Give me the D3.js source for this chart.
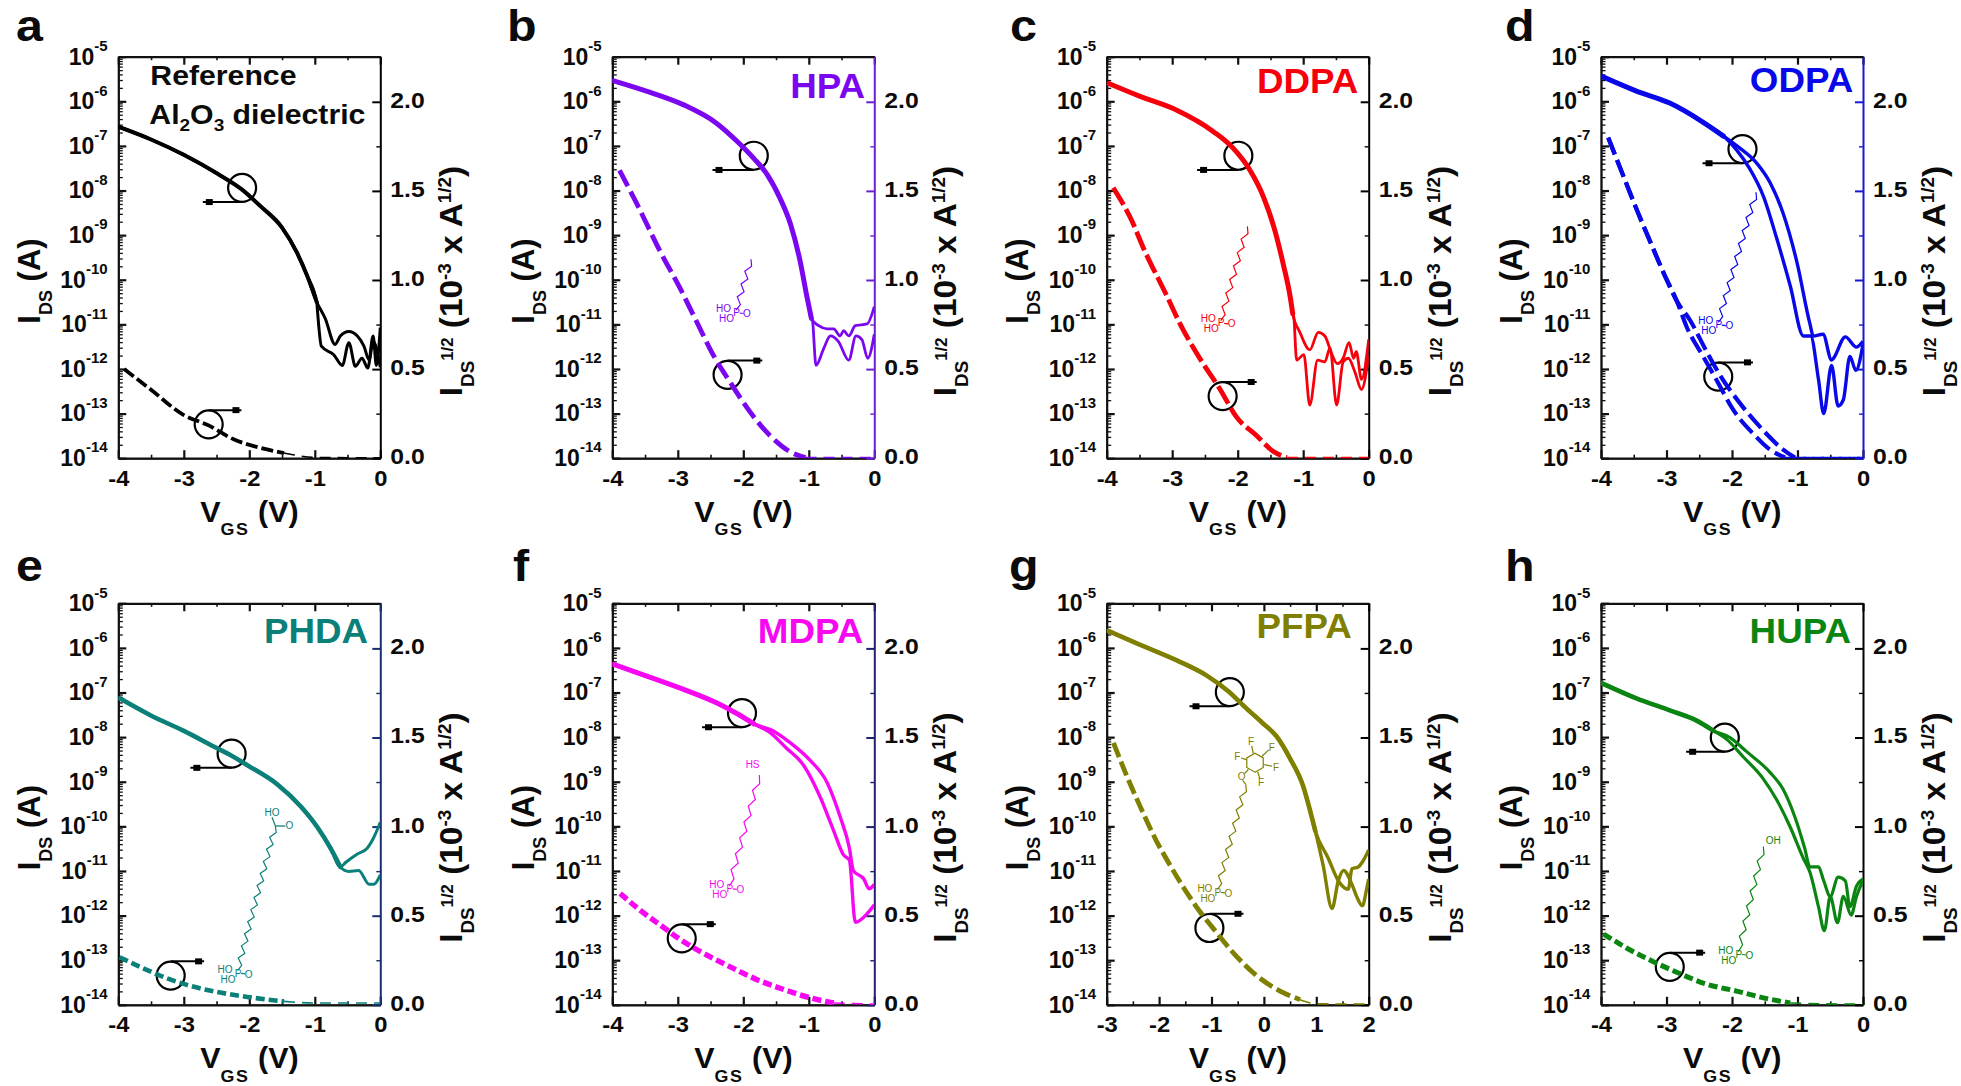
<!DOCTYPE html>
<html><head><meta charset="utf-8">
<script src="https://d3js.org/d3.v7.min.js"></script>
<style>
html,body{margin:0;padding:0;background:#fff}
text{font-family:"Liberation Sans",Arial,sans-serif;font-weight:bold;fill:#0b0b0b}
</style></head><body>
<svg id="c" width="1961" height="1086" xmlns="http://www.w3.org/2000/svg"></svg>
<script>
// ---------- DATA: [V_GS (V), log10 I_DS (A)] and [V_GS (V), sqrt(I_DS) (1e-3 A^1/2)]
const aShared=[[-4,-6.57],[-3.51,-6.85],[-3,-7.2],[-2.49,-7.62],[-2.11,-7.98],[-1.83,-8.35],[-1.5,-8.83],[-1.27,-9.4],[-1.12,-9.9],[-.97,-10.5]];
const aUpper=[[-.84,-10.87],[-.69,-11.45],[-.61,-11.26],[-.48,-11.16],[-.35,-11.26],[-.25,-11.49],[-.17,-11.8],[-.11,-11.38],[0,-11.96]];
const aLower=[[-.96,-10.68],[-.9,-11.49],[-.71,-11.68],[-.58,-11.92],[-.48,-11.41],[-.38,-11.94],[-.28,-11.76],[-.19,-11.98],[-.11,-11.26],[-.06,-11.92],[0,-11.07]];
const aRoot=[[-3.91,.5],[-3.51,.387],[-3,.242],[-2.62,.184],[-2.24,.106],[-1.83,.058],[-1.47,.029],[-.96,.004],[0,.002]];

const bShared=[[-3.98,-5.54],[-3.42,-5.8],[-2.91,-6.08],[-2.41,-6.49],[-2.1,-6.89],[-1.84,-7.28],[-1.64,-7.63],[-1.44,-8.17],[-1.28,-8.75],[-1.13,-9.6],[-1.03,-10.37],[-.96,-10.87]];
const bUpper=[[-.85,-11.03],[-.72,-11.1],[-.62,-11.1],[-.52,-11.26],[-.47,-11.14],[-.39,-11.26],[-.29,-11.03],[-.11,-10.99],[0,-10.6]];
const bLower=[[-.95,-10.87],[-.89,-11.92],[-.77,-11.53],[-.67,-11.26],[-.55,-11.38],[-.39,-11.8],[-.28,-11.26],[-.19,-11.34],[-.1,-11.76],[0,-11.22]];
const bRoot=[[-3.89,1.615],[-3.63,1.431],[-3.27,1.161],[-2.97,.957],[-2.71,.764],[-2.46,.58],[-2.2,.426],[-1.9,.261],[-1.59,.126],[-1.28,.035],[-1.05,.004],[0,.004]];

const cShared=[[-3.97,-5.6],[-3.49,-5.89],[-2.93,-6.2],[-2.37,-6.68],[-2.07,-7.05],[-1.81,-7.55],[-1.61,-8.13],[-1.43,-8.91],[-1.3,-9.68],[-1.2,-10.37],[-1.16,-10.76]];
const cUpper=[[-1.05,-11.18],[-.9,-11.57],[-.77,-11.18],[-.67,-11.26],[-.56,-11.68],[-.48,-11.88],[-.39,-11.76],[-.3,-11.41],[-.23,-11.76],[-.19,-11.61],[-.11,-12.23],[0,-11.34]];
const cLower=[[-1.15,-10.76],[-1.1,-11.8],[-.99,-11.68],[-.9,-12.81],[-.78,-11.8],[-.67,-11.84],[-.59,-11.53],[-.49,-12.81],[-.39,-11.84],[-.31,-11.76],[-.21,-12.07],[-.11,-12.46],[0,-11.68]];
const cRoot=[[-3.9,1.518],[-3.62,1.335],[-3.44,1.18],[-3.08,.909],[-2.88,.754],[-2.58,.561],[-2.27,.387],[-2.02,.232],[-1.71,.126],[-1.46,.039],[-1.25,.004],[0,.004]];

const dShared=[[-3.99,-5.44],[-3.46,-5.77],[-2.95,-6.04],[-2.44,-6.47],[-2.13,-6.78]];
const dUpper=[[-1.88,-7.05],[-1.62,-7.39],[-1.42,-7.82],[-1.22,-8.51],[-1.01,-9.6],[-.81,-10.99],[-.76,-11.26],[-.61,-11.22],[-.48,-11.8],[-.45,-11.76],[-.27,-11.28],[-.1,-11.51],[0,-11.38]];
const dLower=[[-1.93,-7.09],[-1.73,-7.51],[-1.52,-8.13],[-1.32,-9.06],[-1.11,-10.14],[-.91,-11.26],[-.8,-11.26],[-.68,-12.23],[-.6,-13],[-.48,-11.92],[-.38,-12.83],[-.3,-12.69],[-.2,-11.72],[-.11,-12.03],[0,-11.45]];
const dRootShared=[[-3.89,1.799],[-3.63,1.557],[-3.43,1.373],[-3.23,1.199],[-3.05,1.044],[-2.84,.88]];
const dRootUpper=[[-2.64,.774],[-2.39,.6],[-2.18,.464],[-1.88,.309],[-1.52,.155],[-1.22,.048],[-1.04,.004],[0,.004]];
const dRootLower=[[-2.69,.735],[-2.44,.571],[-2.23,.435],[-1.98,.271],[-1.67,.135],[-1.42,.048],[-1.19,.004],[0,.004]];

const eShared=[[-3.98,-7.13],[-3.51,-7.51],[-3,-7.86],[-2.49,-8.25],[-2.29,-8.4],[-2.03,-8.63],[-1.57,-9.06],[-1.21,-9.56],[-.96,-10.02],[-.76,-10.49],[-.61,-10.91]];
const eUpper=[[-.53,-10.81],[-.35,-10.62],[-.2,-10.49],[-.1,-10.25],[0,-9.91]];
const eLower=[[-.48,-11.01],[-.33,-10.99],[-.17,-11.3],[-.1,-11.3],[0,-11.09]];
const eRoot=[[-3.98,.267],[-3.61,.203],[-3.26,.149],[-2.9,.106],[-2.49,.072],[-2.03,.044],[-1.47,.019],[-.96,.01],[0,.01]];

const fShared=[[-3.98,-6.37],[-3.42,-6.66],[-2.91,-6.93],[-2.41,-7.23],[-2.1,-7.47],[-1.84,-7.7]];
const fUpper=[[-1.54,-7.86],[-1.28,-8.13],[-.98,-8.52],[-.72,-9.02],[-.52,-9.79],[-.38,-10.49],[-.32,-10.99],[-.16,-11.18],[-.08,-11.4],[0,-11.3]];
const fLower=[[-1.59,-7.9],[-1.34,-8.25],[-1.08,-8.63],[-.83,-9.33],[-.62,-10.1],[-.47,-10.64],[-.38,-10.76],[-.29,-12.15],[-.11,-11.96],[0,-11.76]];
const fRoot=[[-3.88,.625],[-3.58,.532],[-3.22,.435],[-2.97,.368],[-2.61,.29],[-2.2,.213],[-1.79,.141],[-1.39,.087],[-.98,.039],[-.62,.01],[0,.004]];

const gShared=[[-2.97,-5.62],[-2.36,-5.93],[-1.66,-6.28],[-1.09,-6.62],[-.68,-6.97],[-.33,-7.36],[-.01,-7.7],[.24,-7.98],[.5,-8.48],[.75,-9.1],[.88,-9.64],[.98,-10.1]];
const gUpper=[[1.23,-10.72],[1.42,-11.22],[1.61,-11.41],[1.68,-10.95],[1.8,-10.91],[1.9,-10.76],[2,-10.53]];
const gLower=[[1.13,-10.87],[1.3,-11.84],[1.42,-11.22],[1.52,-10.99],[1.68,-11.3],[1.77,-11.57],[1.88,-11.78],[1.96,-11.41],[2,-11.18]];
const gRoot=[[-2.87,1.47],[-2.62,1.286],[-2.36,1.112],[-2.05,.919],[-1.79,.783],[-1.47,.629],[-1.22,.522],[-.96,.426],[-.58,.29],[-.14,.164],[.31,.077],[.69,.029],[1.01,.006],[2,.004]];

const hShared=[[-3.99,-6.79],[-3.46,-7.13],[-2.95,-7.4],[-2.54,-7.63],[-2.28,-7.86]];
const hUpper=[[-2.03,-8.01],[-1.78,-8.32],[-1.42,-8.79],[-1.22,-9.17],[-1.04,-9.79],[-.89,-10.49],[-.81,-10.91],[-.68,-10.91],[-.6,-11.22],[-.5,-11.57],[-.38,-11.14],[-.27,-11.22],[-.2,-11.8],[-.1,-11.34],[0,-11.18]];
const hLower=[[-2.08,-8.05],[-1.83,-8.44],[-1.52,-8.94],[-1.32,-9.4],[-1.11,-10.02],[-.91,-10.72],[-.81,-11.03],[-.68,-11.8],[-.59,-12.34],[-.5,-11.57],[-.39,-12.16],[-.3,-11.57],[-.18,-11.99],[-.1,-11.57],[0,-11.22]];
const hRoot=[[-3.96,.397],[-3.61,.319],[-3.2,.242],[-2.79,.174],[-2.39,.116],[-1.93,.077],[-1.52,.039],[-1.11,.01],[-.66,.006],[0,.004]];

const logTicks=[-5,-6,-7,-8,-9,-10,-11,-12,-13,-14];
const rootTicks=[0,.5,1,1.5,2];
const rootMinor=[.25,.75,1.25,1.75];
const voltsDefault=[-4,-3,-2,-1,0];
const voltsG=[-3,-2,-1,0,1,2];

// ---------- LAYOUT
const W=262,H=401.5,SY=H/388;
const colX=[118.3,612.3,1106.7,1601], rowY=[56.7,603.3];
const panels=[
 {k:'a',col:0,row:0,color:'#000',axis:'#000',lx:16,name:null,shared:aShared,curves:[[...aShared,...aUpper],[...aShared,...aLower]],roots:[aRoot],dash:['12 4',3.8],lw:[3,4],ring:[-2.11,-7.94,-2.71],ring2:[-2.62,.19,-2.12]},
 {k:'b',col:1,row:0,color:'#7b06f0',axis:'#6a20d0',lx:507,name:['HPA',252.7,41],shared:bShared,curves:[[...bShared,...bUpper],[...bShared,...bLower]],roots:[bRoot],dash:['18 6',4.8],lw:[2.8,5],ring:[-1.84,-7.22,-2.47],ring2:[-2.24,.468,-1.71],mol:{p:[123.7,245],t:[138.7,195.7],n:8}},
 {k:'c',col:2,row:0,color:'#f6000c',axis:'#000',lx:1010,name:['DDPA',251.7,36.7],shared:cShared,curves:[[...cShared,...cUpper],[...cShared,...cLower]],roots:[cRoot],dash:['20 5',4.8],lw:[2.8,5],ring:[-1.99,-7.22,-2.62],ring2:[-2.23,.348,-1.71],mol:{p:[114,255],t:[140.7,164],n:14}},
 {k:'d',col:3,row:0,color:'#0808e8',axis:'#1818d0',lx:1505,name:['ODPA',252.3,35.4],shared:dShared,curves:[[...dShared,...dUpper],[...dShared,...dLower]],roots:[[...dRootShared,...dRootUpper],[...dRootShared,...dRootLower]],dash:['18 6',4.2],lw:[3.4,5],ring:[-1.84,-7.07,-2.45],ring2:[-2.21,.458,-1.68],mol:{p:[117.3,256.7],t:[155,131],n:20}},
 {k:'e',col:0,row:1,color:'#0a8078',axis:'#1a2f70',lx:16,name:['PHDA',249.7,40],shared:eShared,curves:[[...eShared,...eUpper],[...eShared,...eLower]],roots:[eRoot],dash:['9 4',4.6],lw:[3,4.6],ring:[-2.27,-8.37,-2.9],ring2:[-3.2,.164,-2.69],mol:{p:[119.3,355],t:[157,215],n:24,tip:true,extra:[['HO',153.7,202],['O',171,215.3]]}},
 {k:'f',col:1,row:1,color:'#f608f0',axis:'#202070',lx:513,name:['MDPA',251,40],shared:fShared,curves:[[...fShared,...fUpper],[...fShared,...fLower]],roots:[fRoot],dash:['9 4',5.4],lw:[3.4,5],ring:[-2.02,-7.46,-2.63],ring2:[-2.94,.373,-2.42],mol:{p:[117,273.3],t:[147,166],n:14,extra:[['HS',140.3,156]]}},
 {k:'g',col:2,row:1,color:'#7f7f00',axis:'#000',lx:1009,name:['PFPA',245,34.3],xd:[-3,2],xt:voltsG,shared:gShared,curves:[[...gShared,...gUpper],[...gShared,...gLower]],roots:[gRoot],dash:['15 5',4.8],lw:[3.4,4.6],ring:[-.65,-6.99,-1.42],ring2:[-1.04,.431,-.39],mol:{p:[110.7,276.7],t:[139,175],n:16,ring:[148.3,154],extra:[['O',135,167.3],['F',144.3,134],['F',165,139],['F',130.7,148.3],['F',169.3,158.3],['F',154.3,173.3]]}},
 {k:'h',col:3,row:1,color:'#0b8512',axis:'#000',lx:1505,name:['HUPA',250,40],shared:hShared,curves:[[...hShared,...hUpper],[...hShared,...hLower]],roots:[hRoot],dash:['9 4',5],lw:[3.2,4.6],ring:[-2.11,-8.01,-2.7],ring2:[-2.95,.213,-2.41],mol:{p:[137.3,336.7],t:[162.3,235],n:14,extra:[['OH',172.3,229]]}}
];
const svg=d3.select('#c');

function sup(sel,parts){
  parts.forEach(([t,fs,dy])=>sel.append('tspan').attr('font-size',fs).attr('dy',dy).text(t));
}

panels.forEach((p,pi)=>{
  const g=svg.append('g').attr('transform',`translate(${colX[p.col]},${rowY[p.row]})`);
  const x=d3.scaleLinear().domain(p.xd||[-4,0]).range([0,W]);
  const y=d3.scaleLog().domain([1e-14,1e-5]).range([H,0]);
  const yr=d3.scaleLinear().domain([0,2.253]).range([H,0]);
  const xt=p.xt||voltsDefault;
  const step=xt[1]-xt[0];
  const xMinor=xt.slice(0,-1).map(v=>v+step/2);

  svg.append('clipPath').attr('id','clip'+pi).append('rect')
     .attr('x',colX[p.col]).attr('y',rowY[p.row]).attr('width',W).attr('height',H);
  const plot=svg.append('g').attr('clip-path',`url(#clip${pi})`).append('g').attr('transform',`translate(${colX[p.col]},${rowY[p.row]})`);

  // series
  const lineL=d3.line().curve(d3.curveMonotoneX).x(d=>x(d[0])).y(d=>y(Math.pow(10,d[1])));
  const lineR=d3.line().curve(d3.curveMonotoneX).x(d=>x(d[0])).y(d=>yr(d[1]));
  p.curves.forEach(c=>plot.append('path').attr('d',lineL(c)).attr('fill','none').attr('stroke',p.color).attr('stroke-width',p.lw[0]).attr('stroke-linejoin','round'));
  plot.append('path').attr('d',lineL(p.shared)).attr('fill','none').attr('stroke',p.color).attr('stroke-width',p.lw[1]).attr('stroke-linecap','round');
  const tails=[];
  p.roots.forEach(c=>{
    const k=c.findIndex(d=>d[1]<.03);          // the run along zero is drawn thin
    plot.append('path').attr('d',lineR(c.slice(0,k+1))).attr('fill','none').attr('stroke',p.color).attr('stroke-width',p.dash[1]).attr('stroke-dasharray',p.dash[0]);
    tails.push(c.slice(k));
  });

  // molecule
  if(p.mol){
    const m=p.mol, mc=p.color;
    const P=[m.p[0],m.p[1]*SY],T=[m.t[0],m.t[1]*SY];
    const pts=[];
    const dx=T[0]-P[0],dy=T[1]-P[1],len=Math.hypot(dx,dy);
    for(let i=0;i<=m.n;i++){
      const f=i/m.n, a=(i%2?2.6:-2.6)*(i===0||i===m.n?0:1);
      pts.push([P[0]+dx*f-dy/len*a,P[1]+dy*f+dx/len*a]);
    }
    const bond=(a,b)=>g.append('path').attr('d',d3.line()([a,b])).attr('fill','none').attr('stroke',mc).attr('stroke-width',1.2);
    g.append('path').attr('d',d3.line()(pts)).attr('fill','none').attr('stroke',mc).attr('stroke-width',1.2);
    const lab=(t,tx,ty)=>g.append('text').attr('x',tx).attr('y',ty+3.4).attr('text-anchor','middle').attr('font-size',10).style('font-weight','normal').style('fill',mc).text(t);
    lab('HO',P[0]-12.5,P[1]-1.5);
    lab('HO',P[0]-9.5,P[1]+8.5);
    lab('P',P[0]+.5,P[1]+2.5);
    lab('O',P[0]+11,P[1]+3.5);
    bond([P[0]+3.5,P[1]+2.8],[P[0]+7.5,P[1]+3.3]);
    (m.extra||[]).forEach(e=>lab(e[0],e[1],e[2]*SY));
    if(m.tip) m.extra.forEach(e=>bond(T,[e[1]+(e[0]==='O'?-4:0),e[2]*SY+(e[0]==='O'?0:5)]));
    if(m.ring){
      const c=[m.ring[0],m.ring[1]*SY];
      const hex=d3.range(6).map(i=>[c[0]+9.5*Math.sin(i*Math.PI/3),c[1]+9.5*Math.cos(i*Math.PI/3)]);
      g.append('path').attr('d',d3.line()(hex)+'Z').attr('fill','none').attr('stroke',mc).attr('stroke-width',1.2);
      m.extra.forEach(e=>{
        const vx=e[1]-c[0],vy=e[2]*SY-c[1],d=Math.hypot(vx,vy);
        bond([c[0]+vx/d*9.5,c[1]+vy/d*9.5],[c[0]+vx/d*(d-4),c[1]+vy/d*(d-4)]);
      });
      bond([m.extra[0][1]+1,m.extra[0][2]*SY+4],T);
    }
  }

  // axes
  const strip=s=>s.selectAll('text').remove();
  const axCol=p.axis;
  const styleAx=(s,c,w)=>{s.selectAll('path,line').attr('stroke',c).attr('stroke-width',w);};
  g.append('g').call(d3.axisTop(x).tickValues(xt).tickSize(-8).tickSizeOuter(0)).call(strip).call(styleAx,'#111',2.2);
  g.append('g').call(d3.axisTop(x).tickValues(xMinor).tickSize(-3.5).tickSizeOuter(0)).call(strip).call(styleAx,'#111',1.6);
  const bot=g.append('g').attr('transform',`translate(0,${H})`);
  bot.append('g').call(d3.axisBottom(x).tickValues(xMinor).tickSize(-3.5).tickSizeOuter(0)).call(strip).call(styleAx,'#111',1.6);
  const bm=bot.append('g').call(d3.axisBottom(x).tickValues(xt).tickSize(-8).tickSizeOuter(0).tickFormat(d=>String(d))).call(styleAx,'#111',2.2);
  bm.selectAll('text').attr('y',null).attr('dy',null).attr('transform','translate(0,27.5) scale(1.08,1)').attr('font-size',22).attr('font-family',null).style('fill','#0b0b0b');

  g.append('g').call(d3.axisLeft(y).tickValues(logTicks.map(e=>Math.pow(10,e))).tickSize(-8).tickSizeOuter(0).tickFormat('')).call(styleAx,'#111',2.2);
  const minorVals=y.ticks().filter(v=>Math.abs(Math.log10(v)-Math.round(Math.log10(v)))>1e-6);
  g.append('g').call(d3.axisLeft(y).tickValues(minorVals).tickSize(-4.5).tickSizeOuter(0).tickFormat('')).call(strip).call(styleAx,'#111',1.3);
  logTicks.forEach(e=>{
    const t=g.append('text').attr('x',-10.7).attr('y',y(Math.pow(10,e))+7.8).attr('text-anchor','end');
    sup(t,[['10',23,0],[String(e),15,-13.5]]);
  });
  const ra=g.append('g').attr('transform',`translate(${W},0)`);
  ra.append('g').call(d3.axisRight(yr).tickValues(rootMinor).tickSize(-4).tickSizeOuter(0)).call(strip).call(s=>s.selectAll('.domain').remove()).call(styleAx,axCol,1.4);
  ra.append('g').call(d3.axisRight(yr).tickValues(rootTicks).tickSize(-8).tickSizeOuter(0).tickFormat(d3.format('.1f'))).call(styleAx,axCol,2)
    .selectAll('text').attr('x',null).attr('dy',null).attr('transform','translate(10,5.5) scale(1.1,1)').attr('font-size',22.5).attr('font-family',null).attr('text-anchor','start').style('fill','#0b0b0b');

  // thin dashed run along zero lies over the axis line
  tails.forEach(c=>g.append('path').attr('d',lineR(c.map(d=>[d[0],Math.max(d[1],.002)]))).attr('fill','none').attr('stroke',p.color).attr('stroke-width',1.6).attr('stroke-dasharray','11 7'));

  // axis titles
  const xl=g.append('text').attr('transform',`translate(82,${H+63.4}) scale(1.05,1)`);
  sup(xl,[['V',29,0],['GS',17,13.5],[' (V)',29,-13.5]]);
  xl.selectAll('tspan').filter((d,i)=>i===1).attr('letter-spacing',1.5);
  const yl=g.append('text').attr('transform',`translate(-78.7,267) rotate(-90)`);
  sup(yl,[['I',31,0],['DS',18,12],[' (A)',31,-12]]);
  const rl=g.append('text').attr('transform',`translate(${W+82},339.5) rotate(-90) scale(1.045,1)`);
  sup(rl,[['I',32,0],['DS',18,12],['1/2',16,-21],[' (10',32,9],['-3',18,-11],[' x A',32,11],['1/2',18,-11],[')',32,11]]);

  // panel letter
  svg.append('text').attr('transform',`translate(${p.lx},${p.row?581:40.5}) scale(1.1,1)`).attr('font-size',44).text(p.k);

  // name
  if(p.name){
    g.append('text').attr('transform',`translate(${p.name[1]},${p.name[2]}) scale(1.05,1)`).attr('text-anchor','end').attr('font-size',35).style('fill',p.color).text(p.name[0]);
  } else {
    g.append('text').attr('transform','translate(32,28.5) scale(1.12,1)').attr('font-size',27).text('Reference');
    const t=g.append('text').attr('transform','translate(31,67.5) scale(1.12,1)');
    sup(t,[['Al',27,0],['2',17,7],['O',27,-7],['3',17,7],[' dielectric',27,-7]]);
  }

  // annotation rings and arrows
  const ann=(cx,cy,tip,dirUp)=>{
    const ly=cy+(dirUp?-14.2:14.2);
    g.append('circle').attr('cx',cx).attr('cy',cy).attr('r',14).attr('fill','none').attr('stroke','#000').attr('stroke-width',2.2);
    g.append('line').attr('x1',cx).attr('x2',tip).attr('y1',ly).attr('y2',ly).attr('stroke','#000').attr('stroke-width',2);
    const s=Math.sign(tip-cx);
    g.append('rect').attr('x',s>0?tip-9:tip+3).attr('y',ly-3).attr('width',7).attr('height',6).attr('fill','#000');
  };
  ann(x(p.ring[0]),y(Math.pow(10,p.ring[1])),x(p.ring[2]),false);
  ann(x(p.ring2[0]),yr(p.ring2[1]),x(p.ring2[2]),true);
});
</script></body></html>
